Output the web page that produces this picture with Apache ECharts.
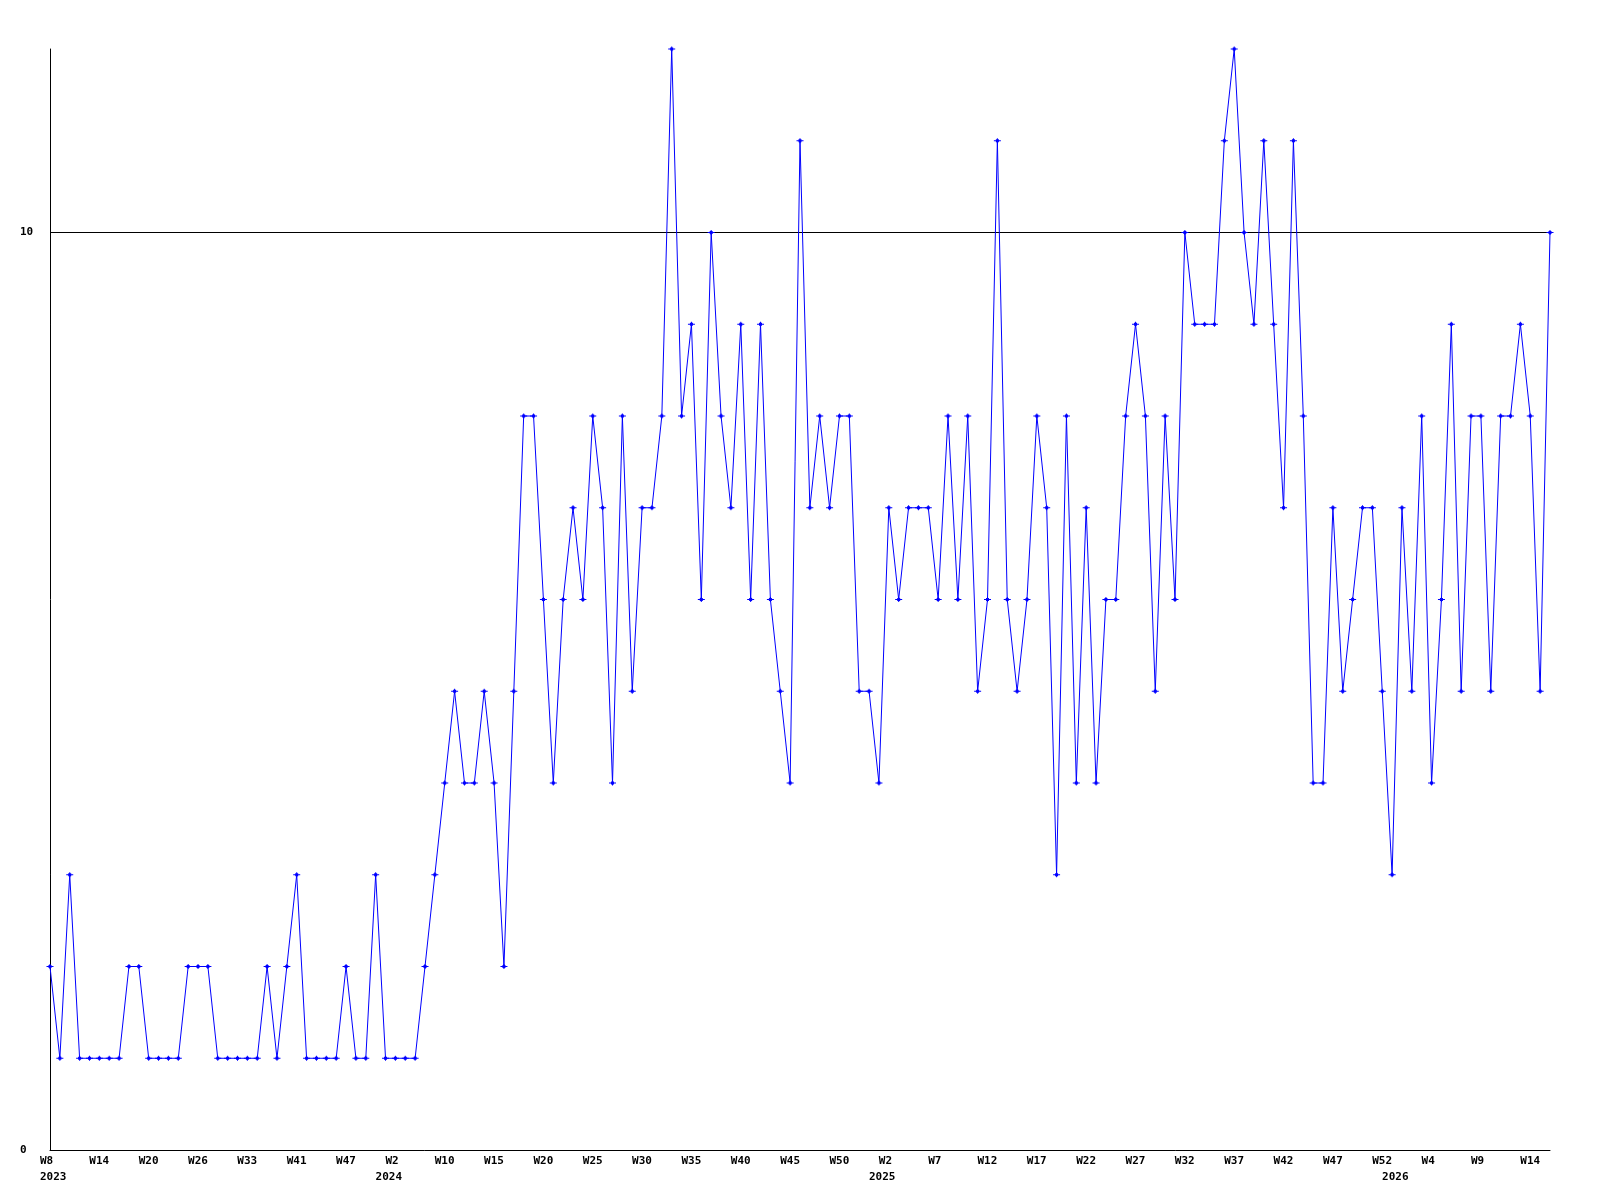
<!DOCTYPE html>
<html>
<head>
<meta charset="utf-8">
<title>weekly count</title>
<script src="https://cdn.jsdelivr.net/npm/echarts@6/dist/echarts.min.js"></script>
<style>
  html, body { margin: 0; padding: 0; background: #fff; }
  #chart { width: 1600px; height: 1200px; }
</style>
</head>
<body>
<div id="chart"></div>
<script>
// week numbers of each point, per year (early weeks have gaps)
var weeks2023 = [8, 9, 10, 12, 13, 14, 15, 16, 18, 19, 20, 21, 22, 24, 25, 26, 27, 29, 30, 31, 33, 34, 36, 37, 39, 41, 42, 43, 44, 45, 47, 48, 50, 52]
var weeks2024 = [1, 2, 3, 5, 7, 8, 10, 11, 12, 13, 14, 15, 16, 17, 18, 19, 20, 21, 22, 23, 24, 25, 26, 27, 28, 29, 30, 31, 32, 33, 34, 35, 36, 37, 38, 39, 40, 41, 42, 43, 44, 45, 46, 47, 48, 49, 50, 51, 52, 53]
var weeks2025 = [1, 2, 3, 4, 5, 6, 7, 8, 9, 10, 11, 12, 13, 14, 15, 16, 17, 18, 19, 20, 21, 22, 23, 24, 25, 26, 27, 28, 29, 30, 31, 32, 33, 34, 35, 36, 37, 38, 39, 40, 41, 42, 43, 44, 45, 46, 47, 48, 49, 50, 51, 52]
var weeks2026 = [0, 1, 2, 3, 4, 5, 6, 7, 8, 9, 10, 11, 12, 13, 14, 15, 16]

// counts per week
var values2023 = [2, 1, 3, 1, 1, 1, 1, 1, 2, 2, 1, 1, 1, 1, 2, 2, 2, 1, 1, 1, 1, 1, 2, 1, 2, 3, 1, 1, 1, 1, 2, 1, 1, 3]
var values2024 = [1, 1, 1, 1, 2, 3, 4, 5, 4, 4, 5, 4, 2, 5, 8, 8, 6, 4, 6, 7, 6, 8, 7, 4, 8, 5, 7, 7, 8, 12, 8, 9, 6, 10, 8, 7, 9, 6, 9, 6, 5, 4, 11, 7, 8, 7, 8, 8, 5, 5]
var values2025 = [4, 7, 6, 7, 7, 7, 6, 8, 6, 8, 5, 6, 11, 6, 5, 6, 8, 7, 3, 8, 4, 7, 4, 6, 6, 8, 9, 8, 5, 8, 6, 10, 9, 9, 9, 11, 12, 10, 9, 11, 9, 7, 11, 8, 4, 4, 7, 5, 6, 7, 7, 5]
var values2026 = [3, 7, 5, 8, 4, 6, 9, 5, 8, 8, 5, 8, 8, 9, 8, 5, 10]

var years = [2023, 2024, 2025, 2026]
var weekLists = [weeks2023, weeks2024, weeks2025, weeks2026]
var valueLists = [values2023, values2024, values2025, values2026]

var categories = []
var values = []
var yearStart = {}
years.forEach(function (y, i) {
  yearStart[categories.length] = true
  weekLists[i].forEach(function (w, j) {
    categories.push(y + '-W' + w)
    values.push(valueLists[i][j])
  })
})

var labelFont = {
  fontFamily: 'DejaVu Sans Mono',
  fontSize: 11,
  fontWeight: 'bold',
  color: '#000'
}

var chart = echarts.init(document.getElementById('chart'))
chart.setOption({
  animation: false,
  backgroundColor: '#fff',
  grid: [
    { left: 50, right: 50, top: 49, bottom: 50 },
    // labels sit a little left of their tick
    { left: 40, right: 60, top: 49, bottom: 50 }
  ],
  xAxis: [
    {
      gridIndex: 0,
      type: 'category',
      boundaryGap: false,
      data: categories,
      axisLine: { lineStyle: { color: '#000', width: 1 } },
      axisTick: { show: false },
      axisLabel: { show: false },
      splitLine: { show: false }
    },
    {
      gridIndex: 1,
      type: 'category',
      position: 'bottom',
      boundaryGap: false,
      data: categories,
      axisLine: { show: false },
      axisTick: { show: false },
      axisLabel: Object.assign({
        interval: 4,
        align: 'left',
        margin: 6,
        formatter: function (v) { return v.split('-')[1] }
      }, labelFont)
    },
    {
      gridIndex: 1,
      type: 'category',
      position: 'bottom',
      boundaryGap: false,
      data: categories,
      axisLine: { show: false },
      axisTick: { show: false },
      axisLabel: Object.assign({
        interval: function (idx) { return !!yearStart[idx] },
        align: 'left',
        margin: 22,
        formatter: function (v) { return v.split('-')[0] }
      }, labelFont)
    }
  ],
  yAxis: [
    {
      gridIndex: 0,
      type: 'value',
      min: 0,
      max: 12,
      interval: 10,
      axisLine: { show: true, lineStyle: { color: '#000', width: 1 } },
      axisTick: { show: false },
      splitLine: {
        show: true,
        showMinLine: false,
        showMaxLine: false,
        lineStyle: { color: '#000', width: 1 }
      },
      axisLabel: Object.assign({
        align: 'left',
        margin: 30,
        showMaxLabel: false
      }, labelFont)
    },
    { gridIndex: 1, type: 'value', min: 0, max: 12, show: false }
  ],
  series: [{
    type: 'line',
    xAxisIndex: 0,
    yAxisIndex: 0,
    data: values,
    // small blue cross with a solid centre
    symbol: 'path://M0,2H7V3H0Z M2,1H5V4H2Z M3,0H4V5H3Z',
    symbolSize: [7, 5],
    showAllSymbol: true,
    itemStyle: { color: '#0000ff' },
    lineStyle: { color: '#0000ff', width: 1 }
  }]
})
</script>
</body>
</html>
